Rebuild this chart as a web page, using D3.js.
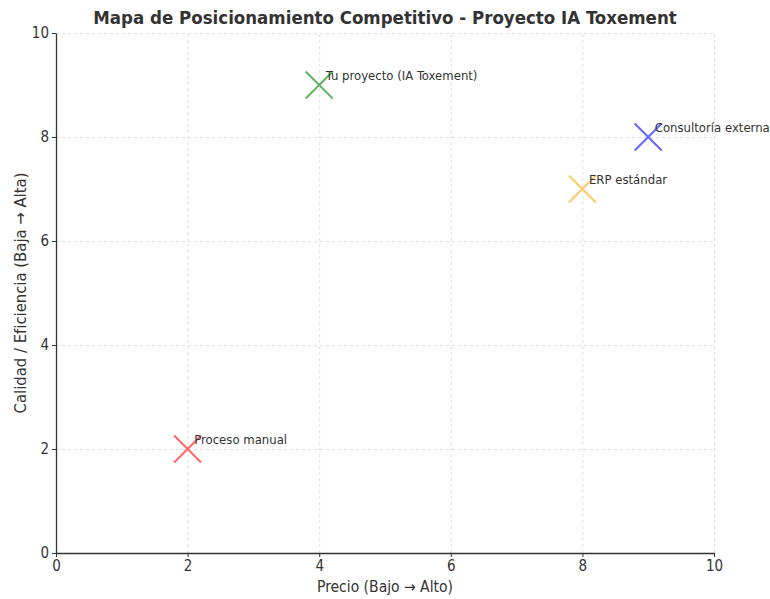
<!DOCTYPE html>
<html lang="es">
<head>
<meta charset="utf-8">
<title>Mapa de Posicionamiento Competitivo</title>
<script src="https://d3js.org/d3.v7.min.js"></script>
<style>
  body { margin: 0; background: #fff; }
  svg { display: block; font-family: "DejaVu Sans Condensed", "DejaVu Sans", sans-serif; }
  .axis path, .axis line { stroke: #333; }
  .axis text { font-size: 15px; fill: #333; font-family: "DejaVu Sans Condensed", "DejaVu Sans", sans-serif; }
  .grid line { stroke: #d6d6d6; stroke-dasharray: 3,3; stroke-width: 0.8; }
  .grid path { display: none; }
</style>
</head>
<body>
<script>
// data
var names = ["Tu proyecto (IA Toxement)", "Consultoría externa", "ERP estándar", "Proceso manual"];
var precio = [4, 9, 8, 2];
var calidad = [9, 8, 7, 2];
var colors = ["#66b366", "#6666ff", "#ffc966", "#ff6666"];
var ticks = [0, 2, 4, 6, 8, 10];

var W = 770, H = 599;
var mLeft = 56, mRight = 714, mTop = 33, mBottom = 553;

var svg = d3.select("body").append("svg").attr("width", W).attr("height", H);

var x = d3.scaleLinear().domain([0, 10]).range([mLeft, mRight]);
var y = d3.scaleLinear().domain([0, 10]).range([mBottom, mTop]);

// grid
svg.append("g").attr("class", "grid")
  .attr("transform", "translate(0," + mBottom + ")")
  .call(d3.axisBottom(x).tickValues(ticks).tickSize(-(mBottom - mTop)).tickFormat(""));
svg.append("g").attr("class", "grid")
  .attr("transform", "translate(" + mLeft + ",0)")
  .call(d3.axisLeft(y).tickValues(ticks).tickSize(-(mRight - mLeft)).tickFormat(""));

// axes
var xa = svg.append("g").attr("class", "axis")
  .attr("transform", "translate(0," + mBottom + ")")
  .call(d3.axisBottom(x).tickValues(ticks).tickSize(4).tickPadding(3).tickSizeOuter(0));
var ya = svg.append("g").attr("class", "axis")
  .attr("transform", "translate(" + mLeft + ",0)")
  .call(d3.axisLeft(y).tickValues(ticks).tickSize(4).tickPadding(3).tickSizeOuter(0));
xa.select(".domain").attr("stroke-width", 1.3);
ya.select(".domain").attr("stroke-width", 1.3);

// markers
var pts = svg.append("g").selectAll("g").data(names).enter().append("g")
  .attr("transform", function(d, i) { return "translate(" + x(precio[i]) + "," + y(calidad[i]) + ")"; });
var s = 13.5;
pts.append("path")
  .attr("d", "M" + (-s) + "," + (-s) + "L" + s + "," + s + "M" + (-s) + "," + s + "L" + s + "," + (-s))
  .attr("stroke", function(d, i) { return colors[i]; })
  .attr("stroke-width", 2)
  .attr("fill", "none");

// labels
svg.append("g").selectAll("text").data(names).enter().append("text")
  .attr("x", function(d, i) { return x(precio[i] + 0.1); })
  .attr("y", function(d, i) { return y(calidad[i] + 0.1); })
  .attr("font-size", "13px")
  .attr("fill", "#333")
  .text(function(d) { return d; });

// title and axis labels
svg.append("text")
  .attr("x", (mLeft + mRight) / 2).attr("y", 24)
  .attr("text-anchor", "middle")
  .attr("font-size", "18.5px").attr("font-weight", "bold").attr("fill", "#333")
  .text("Mapa de Posicionamiento Competitivo - Proyecto IA Toxement");

svg.append("text")
  .attr("x", (mLeft + mRight) / 2).attr("y", 592)
  .attr("text-anchor", "middle")
  .attr("font-size", "15.5px").attr("fill", "#333")
  .text("Precio (Bajo → Alto)");

svg.append("text")
  .attr("transform", "translate(26," + ((mTop + mBottom) / 2) + ") rotate(-90)")
  .attr("text-anchor", "middle")
  .attr("font-size", "16.5px").attr("fill", "#333")
  .text("Calidad / Eficiencia (Baja → Alta)");
</script>
</body>
</html>
